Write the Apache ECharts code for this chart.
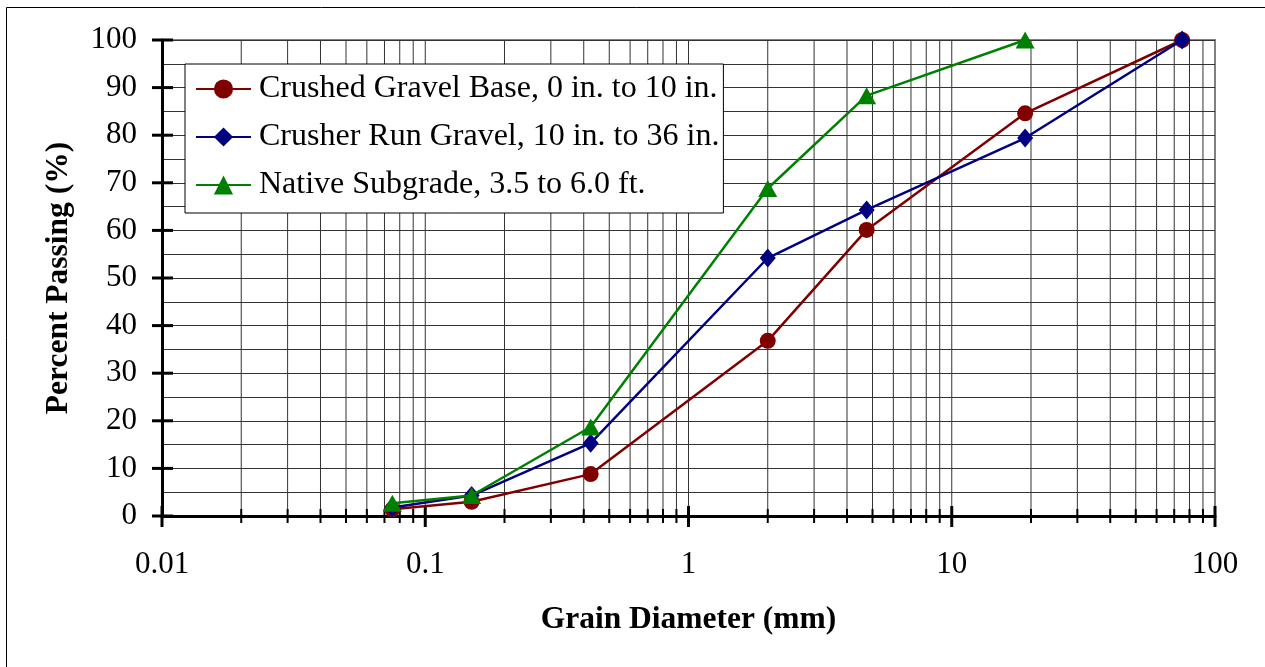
<!DOCTYPE html>
<html>
<head>
<meta charset="utf-8">
<title>Grain Size Distribution</title>
<script src="https://cdn.jsdelivr.net/npm/echarts@6/dist/echarts.min.js"></script>
<style>
  html, body { margin: 0; padding: 0; background: #fff; }
  #chart { width: 1265px; height: 667px; }
</style>
</head>
<body>
<div id="chart"></div>
<script>
// Sieve sizes (mm) and percent passing for each material
const sieveSizes = [0.075, 0.15, 0.425, 2.0, 4.75, 19, 75];
const crushedGravelBase = [1.4, 3.0, 8.8, 36.8, 60.1, 84.6, 100];
const crusherRunGravel = [1.8, 4.3, 15.3, 54.2, 64.3, 79.4, 100];
const nativeSubgrade = [2.7, 4.3, 18.7, 68.8, 88.3, 100];

const seriesNames = [
  'Crushed Gravel Base, 0 in. to 10 in.',
  'Crusher Run Gravel, 10 in. to 36 in.',
  'Native Subgrade, 3.5 to 6.0 ft.'
];

// Log axis decades and the 2..9 subdivisions between them
const xDecades = [0.01, 0.1, 1, 10, 100];
const xSubdivisions = [];
[0.01, 0.1, 1, 10].forEach(d => { for (let k = 2; k <= 9; k++) xSubdivisions.push(+(d * k).toPrecision(3)); });
const yTicks = [0, 10, 20, 30, 40, 50, 60, 70, 80, 90, 100];

const FONT = '"Liberation Serif", "Times New Roman", serif';
const GRID_COLOR = '#333333';

function pairs(xs, ys) { return ys.map((y, i) => [xs[i], y]); }

const chart = echarts.init(document.getElementById('chart'), null, { renderer: 'canvas' });

const gridLineData = xSubdivisions.map(v => [v, 0]).concat(xDecades.map(v => [v, 1]));

chart.setOption({
  animation: false,
  backgroundColor: '#ffffff',
  graphic: [{
    type: 'rect',
    shape: { x: 6.5, y: 7.5, width: 1300, height: 700 },
    style: { fill: 'none', stroke: '#000', lineWidth: 1 },
    silent: true
  }],
  grid: {
    left: 162, right: 50, top: 40, bottom: 151,
    show: true, borderColor: '#808080', borderWidth: 2, backgroundColor: 'transparent'
  },
  legend: {
    left: 185, top: 64,
    orient: 'vertical',
    backgroundColor: '#ffffff',
    borderColor: '#000', borderWidth: 1,
    padding: [9, 4, 12, 10],
    itemWidth: 55, itemHeight: 24, itemGap: 16,
    textStyle: { fontFamily: FONT, fontSize: 32, color: '#000', padding: [0, 0, 0, 3] },
    data: seriesNames
  },
  xAxis: {
    type: 'log', logBase: 10, min: 0.01, max: 100,
    name: 'Grain Diameter (mm)', nameLocation: 'middle', nameGap: 88,
    nameTextStyle: { fontFamily: FONT, fontSize: 31.5, fontWeight: 'bold', color: '#000' },
    axisLine: { lineStyle: { color: '#000', width: 3 } },
    axisTick: { show: false },
    splitLine: { show: false },
    axisLabel: {
      fontFamily: FONT, fontSize: 31, color: '#000', margin: 33,
      formatter: v => String(+v.toPrecision(3))
    }
  },
  yAxis: {
    type: 'value', min: 0, max: 100, interval: 10,
    name: 'Percent Passing (%)', nameLocation: 'middle', nameGap: 87,
    nameTextStyle: { fontFamily: FONT, fontSize: 31.5, fontWeight: 'bold', color: '#000' },
    axisLine: { show: true, lineStyle: { color: '#000', width: 3 } },
    axisTick: { show: false },
    axisLabel: { fontFamily: FONT, fontSize: 31, color: '#000', margin: 25 },
    splitLine: { show: true, lineStyle: { color: GRID_COLOR, width: 1 } },
    minorTick: { show: false, splitNumber: 2 },
    minorSplitLine: { show: true, lineStyle: { color: GRID_COLOR, width: 1 } }
  },
  series: [
    {
      // vertical grid lines at every log subdivision plus crossing tick marks
      type: 'custom', name: 'xgrid', silent: true, clip: false, z: 1,
      data: gridLineData,
      renderItem: (params, api) => {
        const v = api.value(0), major = api.value(1) === 1;
        const bottom = api.coord([v, 0]);
        const top = api.coord([v, 100]);
        const children = [];
        if (v > 0.01 && v < 100) {
          children.push({
            type: 'line',
            shape: { x1: bottom[0], y1: bottom[1], x2: top[0], y2: top[1] },
            style: { stroke: GRID_COLOR, lineWidth: 1 }
          });
        }
        children.push({
          type: 'line',
          shape: { x1: bottom[0], y1: bottom[1] - (major ? 10 : 7), x2: bottom[0], y2: bottom[1] + (major ? 11 : 7) },
          style: { stroke: '#000', lineWidth: major ? 3 : 2 },
          z2: 20
        });
        return { type: 'group', children };
      }
    },
    {
      // crossing tick marks on the percent axis
      type: 'custom', name: 'yticks', silent: true, clip: false, z: 3,
      data: yTicks.map(v => [0.01, v]),
      renderItem: (params, api) => {
        const p = api.coord([0.01, api.value(1)]);
        return {
          type: 'line',
          shape: { x1: p[0] - 10, y1: p[1], x2: p[0] + 11, y2: p[1] },
          style: { stroke: '#000', lineWidth: 3 }
        };
      }
    },
    {
      name: seriesNames[0], type: 'line', z: 5,
      data: pairs(sieveSizes, crushedGravelBase),
      symbol: 'circle', symbolSize: 16,
      lineStyle: { color: '#800000', width: 2.5 },
      itemStyle: { color: '#800000' }
    },
    {
      name: seriesNames[1], type: 'line', z: 6,
      data: pairs(sieveSizes, crusherRunGravel),
      symbol: 'diamond', symbolSize: [16, 19],
      lineStyle: { color: '#000080', width: 2.5 },
      itemStyle: { color: '#000080' }
    },
    {
      name: seriesNames[2], type: 'line', z: 7,
      data: pairs(sieveSizes, nativeSubgrade),
      symbol: 'triangle', symbolSize: [19, 17],
      lineStyle: { color: '#008000', width: 2.5 },
      itemStyle: { color: '#008000' }
    }
  ]
});
</script>
</body>
</html>
